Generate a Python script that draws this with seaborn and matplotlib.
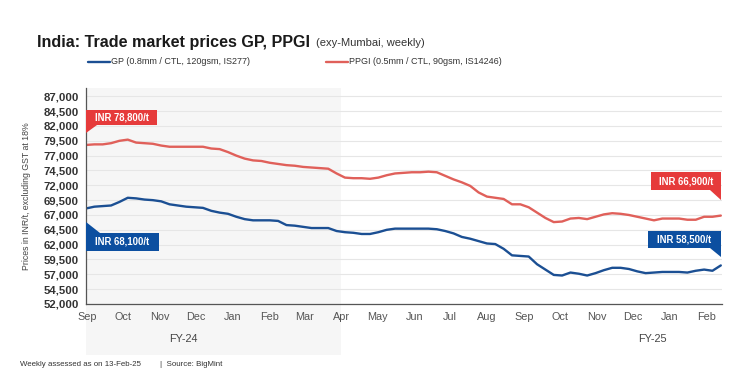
import numpy as np
import pandas as pd
import matplotlib
matplotlib.use("Agg")
import matplotlib.pyplot as plt
import matplotlib.dates as mdates
from matplotlib.patches import Polygon
from matplotlib.ticker import FuncFormatter
import seaborn as sns

# ---------------- data ----------------
dates = pd.date_range("2023-08-31", periods=77, freq="7D")
gp_values = [
    68100, 68400, 68500, 68600, 69200, 69900, 69800, 69600, 69500, 69300,
    68800, 68600, 68400, 68300, 68200, 67700, 67400, 67200, 66700, 66300,
    66100, 66100, 66100, 66000, 65300, 65200, 65000, 64800, 64800, 64800,
    64300, 64100, 64000, 63800, 63800, 64100, 64500, 64700, 64700, 64700,
    64700, 64700, 64600, 64300, 63900, 63300, 63000, 62600, 62200, 62100,
    61300, 60200, 60100, 60000, 58700, 57800, 56900, 56800, 57300, 57100,
    56800, 57200, 57700, 58100, 58100, 57900, 57500, 57200, 57300, 57400,
    57400, 57400, 57300, 57600, 57800, 57600, 58500,
]
ppgi_values = [
    78800, 78900, 78900, 79100, 79500, 79700, 79200, 79100, 79000, 78700,
    78500, 78500, 78500, 78500, 78500, 78200, 78100, 77600, 77000, 76500,
    76200, 76100, 75800, 75600, 75400, 75300, 75100, 75000, 74900, 74800,
    74000, 73300, 73200, 73200, 73100, 73300, 73700, 74000, 74100, 74200,
    74200, 74300, 74200, 73600, 73000, 72500, 71900, 70800, 70100, 69900,
    69700, 68800, 68800, 68300, 67400, 66500, 65800, 65900, 66400, 66500,
    66300, 66700, 67100, 67300, 67200, 67000, 66700, 66400, 66100, 66400,
    66400, 66400, 66200, 66200, 66700, 66700, 66900,
]
series_names = ["GP (0.8mm / CTL, 120gsm, IS277)", "PPGI (0.5mm / CTL, 90gsm, IS14246)"]
y_ticks = list(range(52000, 87001, 2500))
fy_labels = ["FY-24", "FY-25"]
fy24_end = pd.Timestamp("2024-04-01")
start_label = ["INR 78,800/t", "INR 68,100/t"]
end_label = ["INR 66,900/t", "INR 58,500/t"]

df = pd.DataFrame({
    "date": list(dates) * 2,
    "price": gp_values + ppgi_values,
    "series": [series_names[0]] * len(dates) + [series_names[1]] * len(dates),
})

# ---------------- style ----------------
sns.set_theme(style="white")
plt.rcParams["font.family"] = ["Liberation Sans", "DejaVu Sans"]
NARROW = ["Liberation Sans Narrow", "Liberation Sans", "DejaVu Sans"]

BLUE = "#1b4f93"
RED = "#e0605a"
TAG_RED = "#e63b3b"
TAG_BLUE = "#0c4fa0"

fig = plt.figure(figsize=(7.53, 3.80), dpi=100)
ax = fig.add_axes([86 / 753, 1 - 304 / 380, (722 - 86) / 753, (304 - 88) / 380])

sns.lineplot(data=df, x="date", y="price", hue="series",
             palette={series_names[0]: BLUE, series_names[1]: RED},
             linewidth=1.7, legend=False, ax=ax)

ax.set_xlim(dates[0], dates[-1] + pd.Timedelta(days=1))
ax.set_ylim(52000, 88400)
ax.set_yticks(y_ticks)
ax.yaxis.set_major_formatter(FuncFormatter(lambda v, p: f"{int(v):,}"))
ax.grid(axis="y", color="#e6e6e6", linewidth=0.8)
ax.set_axisbelow(True)

# FY-24 shaded zone, extending below the axis
ax.axvspan(dates[0], fy24_end, ymin=-0.236, ymax=1, color="#f6f6f6",
           zorder=0, clip_on=False, lw=0)

ax.xaxis.set_major_locator(mdates.MonthLocator())
ax.xaxis.set_major_formatter(mdates.DateFormatter("%b"))
for s in ["top", "right"]:
    ax.spines[s].set_visible(False)
for s in ["left", "bottom"]:
    ax.spines[s].set_color("#555555")
    ax.spines[s].set_linewidth(0.9)
ax.tick_params(axis="y", which="major", length=3, color="#555555",
               labelsize=8.2, labelcolor="#333333", pad=2)
ax.tick_params(axis="x", which="major", length=3, color="#555555",
               labelsize=7.8, labelcolor="#555555", pad=3)
for lab in ax.get_yticklabels():
    lab.set_fontweight("bold")
for lab in ax.get_xticklabels():
    lab.set_family(NARROW)

ax.set_xlabel("")
ax.set_ylabel("Prices in INR/t, excluding GST at 18%", fontsize=6.3,
              color="#444444", labelpad=9)

# FY labels
fig.text(183 / 753, 1 - 339 / 380, fy_labels[0], fontsize=7.8, color="#444444",
         ha="center", va="center", family=NARROW)
fig.text(652 / 753, 1 - 339 / 380, fy_labels[1], fontsize=7.8, color="#444444",
         ha="center", va="center", family=NARROW)

# Title
fig.text(37 / 753, 1 - 42 / 380, "India: Trade market prices GP, PPGI",
         fontsize=11.6, fontweight="bold", color="#1a1a1a", ha="left", va="center")
fig.text(316 / 753, 1 - 43 / 380, "(exy-Mumbai, weekly)",
         fontsize=8, color="#333333", ha="left", va="center")

# Legend
fig.lines.append(plt.Line2D([88 / 753, 110 / 753], [1 - 62 / 380] * 2,
                            color=BLUE, lw=1.7, transform=fig.transFigure))
fig.text(111 / 753, 1 - 62 / 380, series_names[0], fontsize=6.5, color="#333333",
         ha="left", va="center")
fig.lines.append(plt.Line2D([326 / 753, 348 / 753], [1 - 62 / 380] * 2,
                            color=RED, lw=1.7, transform=fig.transFigure))
fig.text(349 / 753, 1 - 62 / 380, series_names[1], fontsize=6.5, color="#333333",
         ha="left", va="center")

# Tags (pixel -> axes fraction helpers)
def ax_pt(px, py):
    return ((px - 86) / 636, (304 - py) / 216)

def tag(poly_px, text, text_px, color):
    pts = [ax_pt(x, y) for x, y in poly_px]
    ax.add_patch(Polygon(pts, closed=True, facecolor=color, edgecolor="none",
                         transform=ax.transAxes, clip_on=False, zorder=5))
    tx, ty = ax_pt(*text_px)
    ax.text(tx, ty, text, transform=ax.transAxes, fontsize=6.9, color="white",
            fontweight="bold", ha="center", va="center", zorder=6)

tag([(86, 110), (157, 110), (157, 125), (97, 125), (86, 133)],
    start_label[0], (121.5, 117.8), TAG_RED)
tag([(86, 222), (100, 233), (159, 233), (159, 251), (86, 251)],
    start_label[1], (122.5, 242), TAG_BLUE)
tag([(651, 172), (721, 172), (721, 200), (710, 190), (651, 190)],
    end_label[0], (686, 181), TAG_RED)
tag([(648, 231), (721, 231), (721, 257), (710, 248), (648, 248)],
    end_label[1], (684.5, 239.5), TAG_BLUE)

# Footer
fig.text(20 / 753, 1 - 365 / 380, "Weekly assessed as on 13-Feb-25", fontsize=5.7,
         color="#333333", ha="left", va="center")
fig.text(160 / 753, 1 - 365 / 380, "|  Source: BigMint", fontsize=5.7,
         color="#333333", ha="left", va="center")

fig.savefig("out.png", dpi=100, facecolor="white")
